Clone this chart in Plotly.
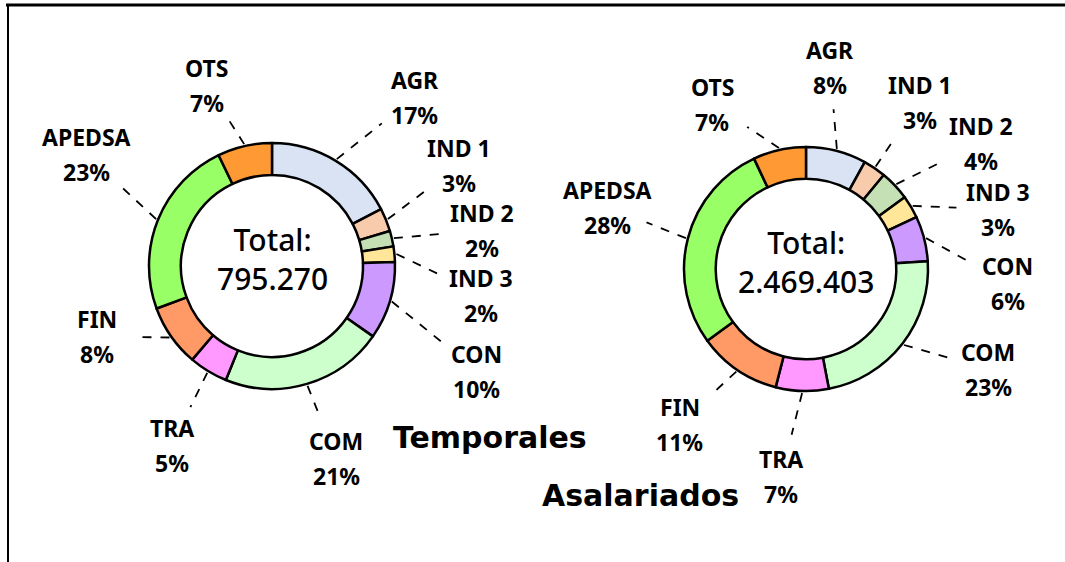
import math
import plotly.graph_objects as go

# ---------------- data ----------------
sectors = ["AGR", "IND 1", "IND 2", "IND 3", "CON", "COM", "TRA", "FIN", "APEDSA", "OTS"]
temporales_pct = [17, 3, 2, 2, 10, 21, 5, 8, 23, 7]
asalariados_pct = [8, 3, 4, 3, 6, 23, 7, 11, 28, 7]
temporales_total = "795.270"
asalariados_total = "2.469.403"
chart_titles = ["Temporales", "Asalariados"]

# ---------------- style / layout ----------------
colors = ["#DAE3F3", "#F8CBAD", "#C5E0B4", "#FFE699", "#CC99FF",
          "#CCFFCC", "#FF99FF", "#FF9966", "#99FF66", "#FF9933"]
W, H = 1065, 562
LABEL_FONT = dict(family="Noto Sans", size=23, color="black", weight="bold")

layouts = [
    dict(values=temporales_pct, total=temporales_total, title=chart_titles[0],
         cx=272, cy=266, r=123,
         nudge=[9, -6, 4, 12.5, 10.5, -2, -2, 13, 9, -7],
         lab_r=[221, 212, 213, 211, 230, 202, 205, 189, 217, 192],
         lab_dy=[0, -1, -3, 3, 0, 0, 0, 0, 0, 0],
         title_xy=(490, 437)),
    dict(values=asalariados_pct, total=asalariados_total, title=chart_titles[1],
         cx=806, cy=269, r=122,
         nudge=[-7.6, 0, 8, 12, 18, -9, 5, 5, 3, -17],
         lab_r=[203, 202, 214, 203, 202, 208, 208, 200, 208, 190],
         lab_dy=[0, 0, -3, 5, 1, 0, 0, 0, 0, 0],
         title_xy=(640, 495)),
]


def px(x):
    return x / W


def py(y):
    return 1 - y / H


fig = go.Figure()
annotations = []
shapes = []

for L in layouts:
    cx, cy, r = L["cx"], L["cy"], L["r"]
    fig.add_trace(go.Pie(
        labels=sectors, values=L["values"], sort=False, direction="clockwise",
        rotation=0, hole=0.74, textinfo="none", hoverinfo="label+percent",
        marker=dict(colors=colors, line=dict(color="black", width=2.5)),
        domain=dict(x=[px(cx - r), px(cx + r)], y=[py(cy + r), py(cy - r)]),
        showlegend=False,
    ))
    # centre text
    annotations.append(dict(x=px(cx), y=py(cy - 7), xref="paper", yref="paper",
                            text="Total:<br>" + L["total"], showarrow=False,
                            font=dict(family="Noto Sans", size=30, color="black", weight=500),
                            xanchor="center", yanchor="middle"))
    # title
    tx, ty = L["title_xy"]
    annotations.append(dict(x=px(tx), y=py(ty), xref="paper", yref="paper",
                            text=L["title"], showarrow=False,
                            font=dict(family="DejaVu Sans", size=30, color="black", weight="bold"),
                            xanchor="center", yanchor="middle"))
    # labels + leader lines computed from slice angles
    tot = sum(L["values"])
    cum = 0
    for i, (name, v) in enumerate(zip(sectors, L["values"])):
        mid = (cum + v / 2) / tot * 360
        cum += v
        la = math.radians(mid + L["nudge"][i])
        lx = cx + L["lab_r"][i] * math.sin(la)
        ly = cy - L["lab_r"][i] * math.cos(la) + L["lab_dy"][i]
        ma = math.radians(mid)
        sx = cx + (r + 2) * math.sin(ma)
        sy = cy - (r + 2) * math.cos(ma)
        dx, dy = lx - sx, ly - sy
        d = math.hypot(dx, dy)
        gap = 42
        ex, ey = lx - dx / d * gap, ly - dy / d * gap
        shapes.append(dict(type="line", xref="paper", yref="paper",
                           x0=px(sx), y0=py(sy), x1=px(ex), y1=py(ey),
                           line=dict(color="black", width=1.8, dash="dash")))
        annotations.append(dict(x=px(lx), y=py(ly - 17), xref="paper", yref="paper",
                                text=name, showarrow=False, font=LABEL_FONT,
                                xanchor="center", yanchor="middle"))
        annotations.append(dict(x=px(lx), y=py(ly + 18), xref="paper", yref="paper",
                                text=f"{v}%", showarrow=False, font=LABEL_FONT,
                                xanchor="center", yanchor="middle"))

# frame lines (top and left)
shapes.append(dict(type="line", xref="paper", yref="paper", x0=px(6), y0=py(5), x1=1, y1=py(5),
                   line=dict(color="black", width=3)))
shapes.append(dict(type="line", xref="paper", yref="paper", x0=px(8), y0=py(5), x1=px(8), y1=0,
                   line=dict(color="black", width=2)))

fig.update_layout(
    width=W, height=H, margin=dict(l=0, r=0, t=0, b=0),
    paper_bgcolor="white", plot_bgcolor="white",
    annotations=annotations, shapes=shapes,
)
fig.write_html("out.html", config={"displayModeBar": False},
               post_script="document.body.style.margin='0';document.body.style.overflow='hidden';")
